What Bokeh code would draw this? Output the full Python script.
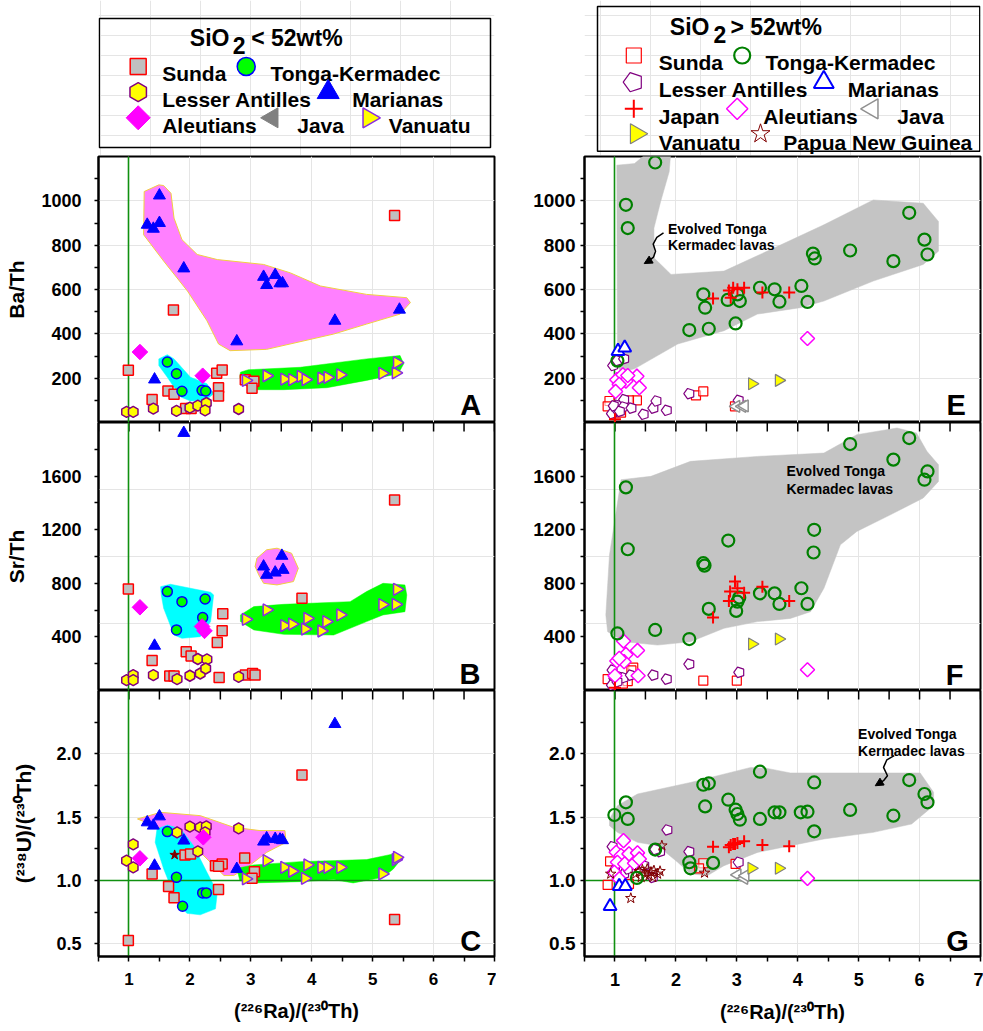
import numpy as np
from bokeh.plotting import figure
from bokeh.layouts import column, row
from bokeh.models import Range1d, FixedTicker, LinearAxis, Arrow, NormalHead, NumeralTickFormatter
from bokeh.core.properties import value
from bokeh.embed import file_html
from bokeh.resources import INLINE

FONT = "Liberation Sans"

# ---------------- ticks ----------------
X_TICKS = [1, 2, 3, 4, 5, 6, 7]
X_MINOR = [0.5, 1.5, 2.5, 3.5, 4.5, 5.5, 6.5]
BA_TICKS = [200, 400, 600, 800, 1000]
BA_MINOR = [100, 300, 500, 700, 900, 1100]
SR_TICKS = [400, 800, 1200, 1600]
SR_MINOR = [200, 600, 1000, 1400, 1800]
U_TICKS = [0.5, 1.0, 1.5, 2.0]
U_MINOR = [0.75, 1.25, 1.75, 2.25]

# ---------------- Panel A (SiO2 < 52, Ba/Th) ----------------
A_sunda_x = [0.99, 5.36, 1.73, 1.38, 1.64, 1.74, 2.44, 2.53, 2.47, 2.47, 1.93, 2.02, 2.91, 3.05, 3.02]
A_sunda_y = [236, 934, 507, 104, 142, 127, 222, 237, 157, 120, 63, 63, 193, 186, 154]
A_tonga_x = [1.63, 1.78, 1.87, 2.20, 2.26]
A_tonga_y = [273, 220, 141, 145, 142]
A_antilles_x = [0.96, 1.07, 1.40, 1.78, 2.00, 2.13, 2.27, 2.25, 2.80]
A_antilles_y = [48, 48, 63, 52, 67, 76, 88, 55, 61]
A_marianas_x = [1.50, 1.30, 1.40, 1.50, 1.90, 2.77, 3.21, 3.26, 3.40, 3.48, 3.52, 4.38, 5.44, 1.42]
A_marianas_y = [1024, 892, 874, 900, 695, 366, 657, 620, 665, 628, 628, 459, 509, 194]
A_aleutians_x = [1.18, 2.21]
A_aleutians_y = [318, 211]
A_vanuatu_x = [2.92, 3.26, 3.55, 3.68, 3.82, 3.90, 4.16, 4.26, 4.47, 5.16, 5.38, 5.40]
A_vanuatu_y = [190, 211, 196, 193, 208, 193, 200, 204, 215, 222, 224, 270]
A_field_mar_x = [1.49, 1.57, 1.69, 1.74, 1.87, 2.12, 2.45, 3.21, 3.65, 4.14, 4.90, 5.56, 5.62, 5.45,
                 4.90, 4.36, 3.26, 2.66, 2.47, 2.28, 1.96, 1.57, 1.24, 1.25]
A_field_mar_y = [1072, 1069, 1034, 922, 825, 758, 735, 713, 675, 616, 578, 563, 541, 489,
                 444, 399, 330, 324, 354, 459, 593, 728, 847, 1042]
A_field_ton_x = [1.49, 1.63, 1.74, 2.01, 2.28, 2.39, 2.26, 2.01, 1.85, 1.63, 1.49]
A_field_ton_y = [287, 306, 287, 204, 175, 130, 100, 97, 115, 204, 257]
A_field_van_x = [2.83, 2.96, 3.81, 4.90, 5.45, 5.51, 5.42, 4.90, 4.25, 3.54, 3.05, 2.86, 2.82]
A_field_van_y = [227, 238, 249, 287, 302, 265, 220, 190, 157, 148, 148, 175, 204]

# ---------------- Panel B (SiO2 < 52, Sr/Th) ----------------
B_sunda_x = [0.99, 5.36, 3.84, 2.54, 2.53, 2.45, 1.38, 1.94, 2.02, 1.67, 1.74, 2.48, 2.91, 3.03, 3.07]
B_sunda_y = [758, 1421, 688, 573, 446, 359, 224, 289, 257, 108, 108, 97, 115, 127, 115]
B_tonga_x = [1.63, 1.87, 2.25, 2.21, 1.78]
B_tonga_y = [738, 663, 683, 544, 452]
B_antilles_x = [0.96, 1.07, 1.07, 1.40, 1.79, 2.00, 2.13, 2.28, 2.17, 2.26, 2.80]
B_antilles_y = [78, 115, 78, 115, 85, 110, 235, 232, 127, 164, 102]
B_marianas_x = [1.90, 1.42, 3.21, 3.26, 3.40, 3.51, 3.53]
B_marianas_y = [1922, 334, 925, 863, 880, 1005, 900]
B_aleutians_x = [1.18, 2.20, 2.24]
B_aleutians_y = [621, 478, 445]
B_vanuatu_x = [2.92, 3.26, 3.55, 3.68, 3.93, 3.89, 4.16, 4.24, 4.47, 5.16, 5.38, 5.40]
B_vanuatu_y = [531, 601, 484, 496, 538, 459, 444, 514, 564, 641, 643, 755]
B_field_mar_x = [3.10, 3.26, 3.43, 3.67, 3.78, 3.70, 3.43, 3.21, 3.13, 3.07]
B_field_mar_y = [987, 1050, 1062, 1024, 912, 813, 788, 800, 863, 925]
B_field_ton_x = [1.52, 1.68, 2.34, 2.39, 2.34, 2.17, 1.87, 1.74, 1.57, 1.53]
B_field_ton_y = [775, 793, 733, 713, 514, 402, 389, 414, 613, 713]
B_field_van_x = [2.83, 3.05, 3.54, 4.63, 4.90, 5.17, 5.53, 5.56, 5.53, 5.17, 4.90, 4.36, 3.54, 3.05, 2.83]
B_field_van_y = [564, 626, 643, 663, 738, 800, 788, 713, 588, 564, 514, 414, 419, 452, 514]

# ---------------- Panel C (SiO2 < 52, U/Th) ----------------
C_sunda_x = [0.99, 3.84, 5.36, 1.38, 1.65, 1.74, 1.92, 2.01, 2.42, 2.53, 2.47, 2.47, 2.90, 3.06, 3.02]
C_sunda_y = [0.526, 1.833, 0.692, 1.052, 0.952, 0.863, 1.202, 1.210, 1.117, 1.131, 1.112, 0.928, 1.178, 1.070, 1.017]
C_tonga_x = [1.63, 1.78, 1.88, 2.21, 2.27]
C_tonga_y = [1.386, 1.025, 0.797, 0.902, 0.902]
C_antilles_x = [0.96, 1.07, 1.07, 1.79, 2.00, 2.17, 2.27, 2.25, 2.13, 2.80]
C_antilles_y = [1.157, 1.285, 1.104, 1.380, 1.425, 1.420, 1.427, 1.380, 1.230, 1.412]
C_marianas_x = [4.38, 1.30, 1.40, 1.50, 1.90, 1.42, 2.77, 3.21, 3.26, 3.40, 3.48, 3.52]
C_marianas_y = [2.235, 1.459, 1.433, 1.506, 1.315, 1.117, 1.091, 1.307, 1.333, 1.328, 1.323, 1.318]
C_aleutians_x = [1.18, 2.22]
C_aleutians_y = [1.175, 1.341]
C_png_x = [1.75]
C_png_y = [1.202]
C_vanuatu_x = [2.92, 3.26, 3.55, 3.68, 3.89, 3.93, 4.16, 4.26, 4.47, 5.16, 5.38, 5.40]
C_vanuatu_y = [1.013, 1.157, 1.104, 1.073, 1.017, 1.123, 1.104, 1.104, 1.104, 1.052, 1.165, 1.183]
C_field_mar_x = [1.14, 1.52, 2.17, 2.72, 3.15, 3.56, 3.58, 3.26, 2.94, 2.72, 2.56, 2.17, 1.85, 1.41]
C_field_mar_y = [1.486, 1.538, 1.512, 1.420, 1.394, 1.394, 1.301, 1.222, 1.104, 1.039, 1.039, 1.222, 1.354, 1.433]
C_field_ton_x = [1.46, 1.63, 1.85, 2.06, 2.28, 2.45, 2.42, 2.17, 1.95, 1.79, 1.57, 1.43]
C_field_ton_y = [1.407, 1.438, 1.407, 1.275, 1.065, 0.907, 0.776, 0.729, 0.741, 0.828, 1.091, 1.301]
C_field_van_x = [2.77, 3.05, 3.81, 4.90, 5.34, 5.49, 5.34, 5.17, 4.68, 4.36, 3.81, 3.05, 2.82]
C_field_van_y = [1.096, 1.123, 1.149, 1.165, 1.210, 1.183, 1.091, 1.025, 0.981, 1.007, 0.991, 0.981, 0.999]

# ---------------- Panel E (SiO2 > 52, Ba/Th) ----------------
E_tonga_x = [1.66, 1.18, 1.21, 2.45, 2.48, 2.22, 2.54, 2.85, 2.98, 3.05, 3.01, 3.38, 3.62, 3.70, 4.06, 4.16,
             4.25, 4.28, 4.86, 5.57, 5.83, 6.08, 6.13, 1.04]
E_tonga_y = [1173, 982, 877, 578, 518, 417, 423, 553, 447, 548, 578, 608, 601, 545, 616, 544,
             762, 740, 776, 728, 946, 825, 758, 279]
E_japan_x = [2.61, 2.87, 2.90, 2.94, 3.01, 3.12, 3.42, 3.86, 1.00]
E_japan_y = [559, 596, 563, 608, 601, 608, 586, 586, 15]
E_marianas_x = [1.05, 1.16]
E_marianas_y = [322, 337]
E_antilles_x = [0.97, 1.04, 1.15, 0.95, 1.02, 1.04, 1.15, 1.14, 1.27, 1.47, 1.63, 1.68, 1.85, 2.22, 3.03, 0.98, 1.08]
E_antilles_y = [257, 279, 287, 40, 63, 78, 103, 70, 65, 37, 65, 97, 55, 130, 100, 75, 50]
E_aleutians_x = [4.16, 1.03, 1.13, 1.18, 1.07, 1.01, 1.36, 1.40, 1.21]
E_aleutians_y = [379, 193, 215, 187, 172, 140, 209, 157, 212]
E_sunda_x = [0.91, 0.88, 1.36, 1.23, 2.33, 2.45, 2.97, 1.10]
E_sunda_y = [97, 73, 100, 100, 122, 140, 73, 45]
E_java_x = [2.99, 3.09, 3.13]
E_java_y = [73, 73, 75]
E_vanuatu_x = [3.25, 3.69]
E_vanuatu_y = [175, 190]
E_field_x = [1.04, 1.03, 1.32, 1.59, 1.92, 1.89, 1.75, 1.64, 1.64, 1.92, 2.79, 3.61, 4.43, 5.24, 6.06, 6.31,
             6.31, 6.06, 5.24, 4.43, 4.04, 3.34, 2.79, 2.03, 1.32, 1.10, 1.02]
E_field_y = [324, 1161, 1168, 1230, 1230, 1131, 997, 877, 743, 668, 683, 787, 892, 1004, 989, 907,
             773, 713, 638, 548, 518, 489, 414, 354, 242, 227, 265]

# ---------------- Panel F (SiO2 > 52, Sr/Th) ----------------
F_tonga_x = [4.86, 5.83, 5.57, 6.13, 6.08, 1.18, 1.21, 2.86, 2.45, 2.47, 4.27, 4.26, 2.54, 3.01, 3.04, 2.99,
             3.38, 3.62, 3.70, 4.06, 4.16, 1.04, 1.66, 2.22]
F_tonga_y = [1839, 1884, 1723, 1635, 1573, 1516, 1054, 1119, 950, 932, 1199, 1030, 609, 663, 693, 594,
             725, 725, 646, 763, 646, 426, 452, 384]
F_japan_x = [2.61, 2.87, 2.89, 2.97, 3.01, 3.12, 3.42, 3.86, 1.00]
F_japan_y = [544, 668, 738, 813, 763, 730, 775, 668, 20]
F_aleutians_x = [4.16, 1.14, 1.37, 1.18, 1.03, 1.15, 1.00, 1.38, 1.07]
F_aleutians_y = [155, 369, 299, 269, 220, 215, 110, 110, 240]
F_sunda_x = [1.30, 0.88, 2.45, 3.00, 1.21, 1.13, 1.27]
F_sunda_y = [170, 85, 73, 73, 70, 52, 150]
F_antilles_x = [1.63, 1.85, 2.22, 3.04, 0.96, 0.99, 1.07, 1.14, 1.26, 0.95, 1.04]
F_antilles_y = [115, 85, 197, 135, 152, 90, 102, 95, 115, 40, 65]
F_vanuatu_x = [3.25, 3.69]
F_vanuatu_y = [347, 384]
F_field_x = [1.10, 1.59, 2.24, 3.34, 4.43, 4.97, 5.63, 5.95, 6.12, 6.31, 6.31, 6.06, 5.52, 4.97, 4.70, 4.43,
             4.21, 3.88, 3.34, 2.79, 2.24, 1.70, 1.15, 0.88, 0.85, 0.91]
F_field_y = [1573, 1598, 1710, 1747, 1772, 1909, 1959, 1922, 1785, 1685, 1560, 1436, 1311, 1187, 1087, 763,
             588, 538, 514, 464, 364, 339, 364, 439, 564, 1012]

# ---------------- Panel G (SiO2 > 52, U/Th) ----------------
G_tonga_x = [0.99, 1.18, 1.21, 1.66, 2.45, 2.54, 2.48, 2.22, 2.24, 2.61, 2.86, 2.98, 3.01, 3.05, 3.38, 3.38,
             3.62, 3.70, 4.05, 4.16, 4.27, 4.27, 4.86, 5.57, 5.83, 6.08, 6.13, 1.36]
G_tonga_y = [1.517, 1.617, 1.486, 1.244, 1.756, 1.767, 1.585, 1.144, 1.096, 1.139, 1.638, 1.559, 1.525, 1.480,
             1.859, 1.486, 1.538, 1.538, 1.538, 1.543, 1.774, 1.388, 1.557, 1.512, 1.793, 1.683, 1.617, 1.020]
G_japan_x = [2.61, 2.87, 2.90, 2.94, 2.97, 3.01, 3.12, 3.42, 3.86]
G_japan_y = [1.267, 1.262, 1.281, 1.289, 1.289, 1.297, 1.309, 1.281, 1.270]
G_marianas_x = [0.92, 1.07, 1.17]
G_marianas_y = [0.797, 0.954, 0.954]
G_aleutians_x = [4.16, 1.14, 1.02, 1.10, 1.23, 1.37, 1.04, 1.16, 1.32, 0.99, 1.07, 1.40]
G_aleutians_y = [1.017, 1.315, 1.223, 1.197, 1.210, 1.218, 1.144, 1.131, 1.136, 1.065, 1.013, 1.170]
G_sunda_x = [0.92, 0.88, 1.23, 1.29, 2.45, 2.98, 2.38]
G_sunda_y = [1.151, 0.965, 0.973, 1.123, 1.136, 1.131, 1.096]
G_antilles_x = [0.96, 1.86, 2.22, 1.74, 3.03, 1.00, 1.15, 1.21, 1.48, 1.62, 1.66]
G_antilles_y = [1.267, 1.399, 1.228, 1.228, 1.144, 1.084, 1.052, 1.091, 1.117, 1.025, 1.245]
G_png_x = [0.93, 1.26, 1.77, 2.47, 1.34, 1.40, 1.45, 1.49, 1.53, 1.56, 1.59, 1.64, 1.70, 1.74, 1.62, 1.43]
G_png_y = [1.052, 0.860, 1.275, 1.060, 1.052, 1.073, 1.084, 1.052, 1.091, 1.039, 1.065, 1.078, 1.052, 1.073,
           1.025, 1.025]
G_java_x = [3.01, 3.12, 3.14]
G_java_y = [1.044, 1.017, 1.039]
G_vanuatu_x = [3.24, 3.69]
G_vanuatu_y = [1.096, 1.096]
G_field_x = [0.91, 1.04, 1.37, 2.24, 3.23, 3.50, 3.88, 4.97, 6.01, 6.23, 6.23, 5.87, 5.24, 4.43, 3.34, 2.79,
             2.52, 2.24, 2.03, 1.70, 1.37, 1.04, 0.91]
G_field_y = [1.486, 1.591, 1.683, 1.774, 1.893, 1.885, 1.849, 1.849, 1.849, 1.696, 1.591, 1.446, 1.380, 1.328,
             1.222, 1.117, 1.039, 1.052, 1.144, 1.275, 1.301, 1.380, 1.433]

EVOLVED = ["Evolved Tonga", "Kermadec lavas"]

# ---------------- styles ----------------
MAG = "#ff80ff"
CYAN = "#00ffff"
LIME = "#00ff00"
GRAYF = "#c4c4c4"
REFG = "#109010"
PURP = "#800080"
VIOL = "#8a2be2"
PNG = "#800000"


def style_text_axis(ax, size, standoff):
    ax.major_label_text_font = FONT
    ax.major_label_text_font_style = "bold"
    ax.major_label_text_font_size = size
    ax.major_label_text_color = "black"
    ax.major_label_standoff = standoff
    ax.axis_line_color = "black"
    ax.axis_line_width = 2
    ax.major_tick_line_width = 1.5
    ax.minor_tick_line_width = 1.5
    ax.major_tick_line_color = "black"
    ax.minor_tick_line_color = "black"


def panel(width, height, bl, br, bt, bb, yr, yticks, yminor, ylabel=None, top_ticks=False,
          bottom_axis=False, standoff=13, ylabel_standoff=10, tick_size="18px", fmt=None, xtick_size="17px"):
    p = figure(width=width, height=height, x_range=Range1d(0.5, 7), y_range=Range1d(*yr),
               x_axis_location=None, y_axis_location=None, toolbar_location=None,
               output_backend="svg", min_border_left=bl, min_border_right=br,
               min_border_top=bt, min_border_bottom=bb)
    p.outline_line_color = "black"
    p.outline_line_width = 2
    p.outline_line_alpha = 1
    p.background_fill_color = "white"
    p.border_fill_color = "white"
    ya = LinearAxis(ticker=FixedTicker(ticks=yticks, minor_ticks=yminor))
    if fmt is not None:
        ya.formatter = fmt
    style_text_axis(ya, tick_size, standoff)
    ya.major_tick_out = 4
    ya.major_tick_in = 0
    ya.minor_tick_out = 4
    ya.minor_tick_in = 0
    if ylabel:
        ya.axis_label = ylabel
        ya.axis_label_text_font = FONT
        ya.axis_label_text_font_style = "bold"
        ya.axis_label_text_font_size = "21px"
        ya.axis_label_text_color = "black"
        ya.axis_label_standoff = ylabel_standoff
    p.add_layout(ya, "left")
    if top_ticks:
        # ticks of the panel above, which hang down into this panel
        xs = X_TICKS + X_MINOR
        p.scatter(xs, [yr[1]] * len(xs), marker="dash", angle=np.pi / 2, size=18,
                  line_color="black", line_width=1.5)
    if bottom_axis:
        xa = LinearAxis(ticker=FixedTicker(ticks=X_TICKS, minor_ticks=X_MINOR))
        style_text_axis(xa, xtick_size, 11)
        xa.major_tick_out = 5
        xa.major_tick_in = 0
        xa.minor_tick_out = 5
        xa.minor_tick_in = 0
        xa.axis_label = "(\u00b2\u00b2\u2076Ra)/(\u00b2\u00b3\u2070Th)"
        xa.axis_label_text_font = FONT
        xa.axis_label_text_font_style = "bold"
        xa.axis_label_text_font_size = "20px"
        xa.axis_label_text_color = "black"
        xa.axis_label_standoff = 12
        p.add_layout(xa, "below")
    return p


def vline(p):
    p.vspan(x=[1], line_color=REFG, line_width=1.6)


def hline(p):
    p.hspan(y=[1], line_color=REFG, line_width=1.6)


def field(p, x, y, color, outline=None):
    p.patch(x, y, fill_color=color, line_color=outline if outline else color,
            line_width=1 if outline else 0.5)


def letter(p, x, y, s):
    p.text(x=[x], y=[y], text=[s], text_font=value(FONT), text_font_style="bold",
           text_font_size=value("29px"), text_align="right", text_baseline="alphabetic", text_color="black")


def pentagons(p, x, y, r, color, lw, fill="white"):
    p.ngon(x=x, y=y, radius=r, radius_units="screen", n=5, angle=np.pi / 2,
           fill_color=fill, line_color=color, line_width=lw)


# ---- left-column (basalts) markers ----
def L_sunda(p, x, y, s=10):
    p.scatter(x, y, marker="square", size=s, fill_color="#c0c0c0", line_color="red", line_width=1.5)


def L_tonga(p, x, y, s=10):
    p.scatter(x, y, marker="circle", size=s, fill_color=LIME, line_color="blue", line_width=1.5)


def L_antilles(p, x, y, s=11):
    p.scatter(x, y, marker="hex", size=s, angle=np.pi / 2, fill_color="yellow", line_color=PURP, line_width=1.5)


def L_marianas(p, x, y, s=12):
    p.scatter(x, y, marker="triangle", size=s, fill_color="blue", line_color="blue", line_width=1)


def L_aleutians(p, x, y, s=11):
    p.scatter(x, y, marker="square", size=s, angle=np.pi / 4, fill_color="magenta", line_color="magenta")


def L_vanuatu(p, x, y, s=12):
    p.scatter(x, y, marker="triangle", size=s, angle=-np.pi / 2, fill_color="yellow", line_color=VIOL,
              line_width=1.5)


def L_java(p, x, y, s=12):
    p.scatter(x, y, marker="triangle", size=s, angle=np.pi / 2, fill_color="#808080", line_color="#808080")


def L_png(p, x, y, s=10):
    p.scatter(x, y, marker="star", size=s, fill_color=PNG, line_color=PNG)


# ---- right-column (evolved) markers ----
def R_tonga(p, x, y, s=12):
    p.scatter(x, y, marker="circle", size=s, fill_color=None, line_color="#008000", line_width=2.2)


def R_sunda(p, x, y, s=9):
    p.scatter(x, y, marker="square", size=s, fill_color="white", fill_alpha=0.6, line_color="red", line_width=1.2)


def R_antilles(p, x, y, r=5.5):
    pentagons(p, x, y, r, PURP, 1.2)


def R_marianas(p, x, y, s=13):
    p.scatter(x, y, marker="triangle", size=s, fill_color="white", line_color="blue", line_width=2)


def R_japan(p, x, y, s=12):
    p.scatter(x, y, marker="cross", size=s, line_color="red", line_width=2)


def R_aleutians(p, x, y, s=10):
    p.scatter(x, y, marker="square", size=s, angle=np.pi / 4, fill_color="white", line_color="magenta",
              line_width=1.5)


def R_java(p, x, y, s=12):
    p.scatter(x, y, marker="triangle", size=s, angle=np.pi / 2, fill_color="white", line_color="#909090",
              line_width=1.5)


def R_vanuatu(p, x, y, s=12):
    p.scatter(x, y, marker="triangle", size=s, angle=-np.pi / 2, fill_color="yellow", line_color="#808080",
              line_width=1.2)


def R_png(p, x, y, s=11):
    p.scatter(x, y, marker="star", size=s, fill_color=None, line_color=PNG, line_width=1)


def evolved_text(p, x, y1, y2):
    for s, yy in zip(EVOLVED, [y1, y2]):
        p.text(x=[x], y=[yy], text=[s], text_font=value(FONT), text_font_style="bold",
               text_font_size=value("14px"), text_align="left", text_baseline="alphabetic", text_color="black")


def curly(p, xs, ys):
    p.line(xs[:-1], ys[:-1], line_color="black", line_width=1.5)
    p.add_layout(Arrow(end=NormalHead(size=8, fill_color="black", line_color="black"),
                       x_start=xs[-2], y_start=ys[-2], x_end=xs[-1], y_end=ys[-1],
                       line_color="black", line_width=1.5))


U_LABEL = "(\u00b2\u00b3\u2078U)/(\u00b2\u00b3\u2070Th)"

LW, L_BL, L_BR = 496, 98, 2
RW, R_BL, R_BR = 487, 88, 3
HA, HB, HC = 267, 268, 341

# ================= Left column =================
A = panel(LW, HA, L_BL, L_BR, 1, 0, (0, 1200), BA_TICKS, BA_MINOR, ylabel="Ba/Th")
field(A, A_field_mar_x, A_field_mar_y, MAG, "#f0d040")
field(A, A_field_ton_x, A_field_ton_y, CYAN)
field(A, A_field_van_x, A_field_van_y, LIME)
vline(A)
L_sunda(A, A_sunda_x, A_sunda_y)
L_antilles(A, A_antilles_x, A_antilles_y)
L_tonga(A, A_tonga_x, A_tonga_y)
L_aleutians(A, A_aleutians_x, A_aleutians_y)
L_marianas(A, A_marianas_x, A_marianas_y)
L_vanuatu(A, A_vanuatu_x, A_vanuatu_y)
letter(A, 6.78, 78, "A")

B = panel(LW, HB, L_BL, L_BR, 0, 0, (0, 2000), SR_TICKS, SR_MINOR, ylabel="Sr/Th", top_ticks=True)
field(B, B_field_mar_x, B_field_mar_y, MAG, "#f0d040")
field(B, B_field_ton_x, B_field_ton_y, CYAN)
field(B, B_field_van_x, B_field_van_y, LIME)
vline(B)
L_sunda(B, B_sunda_x, B_sunda_y)
L_antilles(B, B_antilles_x, B_antilles_y)
L_tonga(B, B_tonga_x, B_tonga_y)
L_aleutians(B, B_aleutians_x, B_aleutians_y)
L_marianas(B, B_marianas_x, B_marianas_y)
L_vanuatu(B, B_vanuatu_x, B_vanuatu_y)
letter(B, 6.77, 125, "B")

C = panel(LW, HC, L_BL, L_BR, 0, 75, (0.4, 2.5), U_TICKS, U_MINOR, ylabel=U_LABEL, top_ticks=True,
          bottom_axis=True, ylabel_standoff=18, fmt=NumeralTickFormatter(format="0.0"))
field(C, C_field_mar_x, C_field_mar_y, MAG, "#f0d040")
field(C, C_field_ton_x, C_field_ton_y, CYAN)
field(C, C_field_van_x, C_field_van_y, LIME)
vline(C)
hline(C)
L_sunda(C, C_sunda_x, C_sunda_y)
L_antilles(C, C_antilles_x, C_antilles_y)
L_tonga(C, C_tonga_x, C_tonga_y)
L_aleutians(C, C_aleutians_x, C_aleutians_y)
L_marianas(C, C_marianas_x, C_marianas_y)
L_vanuatu(C, C_vanuatu_x, C_vanuatu_y)
L_png(C, C_png_x, C_png_y)
letter(C, 6.78, 0.526, "C")

# ================= Right column =================
E = panel(RW, HA, R_BL, R_BR, 1, 0, (0, 1200), BA_TICKS, BA_MINOR, standoff=5, tick_size="19px")
field(E, E_field_x, E_field_y, GRAYF)
vline(E)
R_sunda(E, E_sunda_x, E_sunda_y)
R_antilles(E, E_antilles_x, E_antilles_y)
R_aleutians(E, E_aleutians_x, E_aleutians_y)
R_java(E, E_java_x, E_java_y)
R_vanuatu(E, E_vanuatu_x, E_vanuatu_y)
R_tonga(E, E_tonga_x, E_tonga_y)
R_marianas(E, E_marianas_x, E_marianas_y)
R_japan(E, E_japan_x, E_japan_y)
evolved_text(E, 1.87, 874, 803)
curly(E, [1.797, 1.687, 1.627, 1.666, 1.633, 1.55, 1.48], [855, 835, 805, 773, 746, 728, 717])
letter(E, 6.76, 78, "E")

F = panel(RW, HB, R_BL, R_BR, 0, 0, (0, 2000), SR_TICKS, SR_MINOR, top_ticks=True, standoff=5,
          tick_size="19px")
field(F, F_field_x, F_field_y, GRAYF)
vline(F)
R_sunda(F, F_sunda_x, F_sunda_y)
R_antilles(F, F_antilles_x, F_antilles_y)
R_aleutians(F, F_aleutians_x, F_aleutians_y)
R_vanuatu(F, F_vanuatu_x, F_vanuatu_y)
R_tonga(F, F_tonga_x, F_tonga_y)
R_japan(F, F_japan_x, F_japan_y)
evolved_text(F, 3.815, 1640, 1503)
letter(F, 6.72, 115, "F")

G = panel(RW, HC, R_BL, R_BR, 0, 75, (0.4, 2.5), U_TICKS, U_MINOR, top_ticks=True, bottom_axis=True,
          standoff=5, tick_size="19px", fmt=NumeralTickFormatter(format="0.0"), xtick_size="18px")
field(G, G_field_x, G_field_y, GRAYF)
vline(G)
hline(G)
R_sunda(G, G_sunda_x, G_sunda_y)
R_antilles(G, G_antilles_x, G_antilles_y)
R_aleutians(G, G_aleutians_x, G_aleutians_y)
R_png(G, G_png_x, G_png_y)
R_java(G, G_java_x, G_java_y)
R_vanuatu(G, G_vanuatu_x, G_vanuatu_y)
R_tonga(G, G_tonga_x, G_tonga_y)
R_marianas(G, G_marianas_x, G_marianas_y)
R_japan(G, G_japan_x, G_japan_y)
evolved_text(G, 4.99, 2.156, 2.024)
curly(G, [5.583, 5.463, 5.408, 5.473, 5.408, 5.33, 5.272], [1.986, 1.953, 1.893, 1.827, 1.788, 1.765, 1.748])
letter(G, 6.81, 0.526, "G")


# ================= Legends (page-pixel coordinates, y measured from top) =================
LEG_H = 155


def legend_fig(width, x0, bl, br):
    p = figure(width=width, height=LEG_H, x_range=Range1d(x0 + bl, x0 + width - br), y_range=Range1d(0, LEG_H),
               x_axis_location=None, y_axis_location=None, toolbar_location=None, output_backend="svg",
               min_border_left=bl, min_border_right=br, min_border_top=0, min_border_bottom=0)
    p.outline_line_color = None
    p.background_fill_color = "white"
    p.border_fill_color = "white"
    return p


def ly(y):
    return [LEG_H - y]


def ltxt(p, x, y, s, size="21px"):
    p.text(x=[x], y=ly(y), text=[s], text_font=value(FONT), text_font_style="bold", text_font_size=value(size),
           text_align="left", text_baseline="alphabetic", text_color="black")


legL = legend_fig(LW, 0, L_BL, L_BR)
legL.quad(left=[98.8], right=[490], top=ly(18), bottom=ly(147), fill_color=None, line_color="black",
          line_width=1.5)
ltxt(legL, 189.3, 37.3, "SiO", "23px")
ltxt(legL, 232.3, 45, "2", "23px")
ltxt(legL, 250.7, 37.3, "< 52wt%", "23px")
L_sunda(legL, [137.7], ly(66), 16)
ltxt(legL, 161.7, 73.3, "Sunda")
L_tonga(legL, [245.7], ly(66), 18)
ltxt(legL, 270, 73.3, "Tonga-Kermadec")
L_antilles(legL, [137.7], ly(91.7), 19)
ltxt(legL, 161.7, 99, "Lesser Antilles")
L_marianas(legL, [327.7], ly(91.7), 22)
ltxt(legL, 351.7, 99, "Marianas")
L_aleutians(legL, [137.7], ly(117.3), 17)
ltxt(legL, 161.7, 125, "Aleutians")
L_java(legL, [271.7], ly(117.3), 20)
ltxt(legL, 296.7, 125, "Java")
L_vanuatu(legL, [368.3], ly(117.3), 20)
ltxt(legL, 388.3, 125, "Vanuatu")

legR = legend_fig(RW, LW, R_BL, R_BR)
legR.quad(left=[597], right=[979.3], top=ly(6), bottom=ly(150.7), fill_color=None, line_color="black",
          line_width=1.5)
ltxt(legR, 669.3, 26.7, "SiO", "23px")
ltxt(legR, 713, 34.3, "2", "23px")
ltxt(legR, 730, 26.7, "> 52wt%", "23px")
R_sunda(legR, [633.3], ly(55), 15)
ltxt(legR, 658.3, 62.3, "Sunda")
R_tonga(legR, [741.7], ly(55), 16)
ltxt(legR, 765, 62.3, "Tonga-Kermadec")
R_antilles(legR, [632.7], ly(81.7), 10)
ltxt(legR, 658.3, 89, "Lesser Antilles")
R_marianas(legR, [823.3], ly(81.7), 20)
ltxt(legR, 847.3, 89, "Marianas")
R_japan(legR, [633.3], ly(108.3), 18)
ltxt(legR, 658.3, 115.7, "Japan")
R_aleutians(legR, [736.7], ly(108.3), 15)
ltxt(legR, 762.7, 115.7, "Aleutians")
R_java(legR, [871.7], ly(108.3), 20)
ltxt(legR, 896.7, 115.7, "Java")
R_vanuatu(legR, [635.7], ly(133.3), 20)
ltxt(legR, 658.3, 141.7, "Vanuatu")
R_png(legR, [760], ly(133.3), 20)
ltxt(legR, 782.7, 141.7, "Papua New Guinea")

layout = row(column(legL, A, B, C, spacing=0), column(legR, E, F, G, spacing=0), spacing=0)

open("out.html", "w").write(file_html(layout, INLINE))
